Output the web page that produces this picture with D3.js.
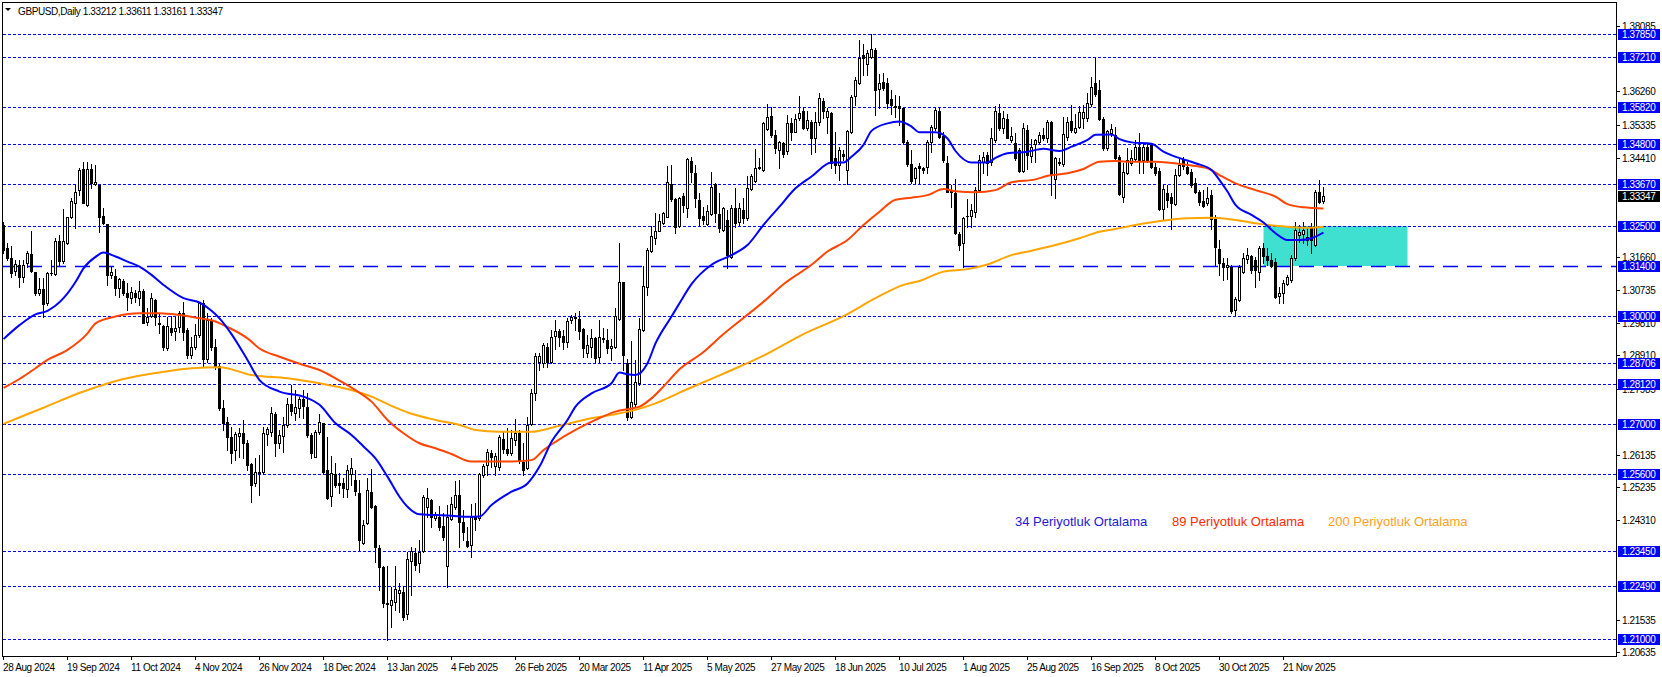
<!DOCTYPE html>
<html>
<head>
<meta charset="utf-8">
<script src="https://cdn.jsdelivr.net/npm/d3@7"></script>
<style>
  body { margin: 0; background: #fff; }
  svg { display: block; font-family: "Liberation Sans", Arial, sans-serif; }
</style>
</head>
<body>
<svg id="chart" width="1662" height="677"></svg>
<script>
// daily candles [open, high, low, close], one row of 16 bars per date label
const ohlc = [
  // 28 Aug 2024
  [1.3254,1.3263,1.3176,1.3184],[1.3189,1.3203,1.3157,1.3161],[1.3161,1.3195,1.3110,1.3121],[1.3127,1.3157,1.3115,1.3145],
  [1.3142,1.3157,1.3082,1.3110],[1.3110,1.3157,1.3096,1.3143],[1.3149,1.3182,1.3138,1.3175],[1.3173,1.3237,1.3124,1.3127],
  [1.3123,1.3123,1.3059,1.3064],[1.3065,1.3105,1.3059,1.3075],[1.3075,1.3105,1.2999,1.3034],[1.3038,1.3124,1.3031,1.3119],
  [1.3119,1.3156,1.3115,1.3121],[1.3118,1.3217,1.3115,1.3210],[1.3210,1.3226,1.3143,1.3155],[1.3155,1.3298,1.3147,1.3210],
  // 19 Sep 2024
  [1.3205,1.3277,1.3201,1.3277],[1.3277,1.3328,1.3272,1.3322],[1.3314,1.3365,1.3245,1.3346],[1.3350,1.3412,1.3338,1.3407],
  [1.3409,1.3428,1.3314,1.3316],[1.3310,1.3430,1.3307,1.3409],[1.3409,1.3425,1.3356,1.3370],[1.3367,1.3421,1.3365,1.3375],
  [1.3365,1.3365,1.3233,1.3277],[1.3279,1.3300,1.3258,1.3260],[1.3258,1.3258,1.3087,1.3115],[1.3114,1.3138,1.3106,1.3124],
  [1.3113,1.3131,1.3059,1.3078],[1.3078,1.3105,1.3054,1.3103],[1.3098,1.3103,1.3059,1.3064],[1.3065,1.3091,1.3017,1.3054],
  // 11 Oct 2024
  [1.3050,1.3082,1.3038,1.3068],[1.3065,1.3073,1.3040,1.3054],[1.3050,1.3098,1.3031,1.3070],[1.3070,1.3075,1.2980,1.2982],
  [1.2983,1.3022,1.2974,1.2999],[1.3001,1.3065,1.2999,1.3050],[1.3045,1.3048,1.2975,1.2999],[1.2982,1.3008,1.2952,1.2978],
  [1.2973,1.2976,1.2906,1.2915],[1.2911,1.2999,1.2906,1.2973],[1.2966,1.3000,1.2948,1.2955],[1.2960,1.2999,1.2934,1.2966],
  [1.2969,1.3013,1.2957,1.3008],[1.3010,1.3040,1.2934,1.2957],[1.2962,1.2966,1.2883,1.2892],[1.2892,1.2943,1.2883,1.2915],
  // 4 Nov 2024
  [1.2915,1.2978,1.2908,1.2948],[1.2948,1.3040,1.2943,1.3038],[1.3036,1.3045,1.2860,1.2880],[1.2880,1.3010,1.2872,1.2990],
  [1.2990,1.2995,1.2905,1.2915],[1.2915,1.2935,1.2852,1.2860],[1.2860,1.2866,1.2740,1.2745],[1.2743,1.2767,1.2683,1.2702],
  [1.2706,1.2720,1.2628,1.2663],[1.2663,1.2692,1.2592,1.2618],[1.2627,1.2678,1.2599,1.2671],[1.2667,1.2688,1.2608,1.2675],
  [1.2674,1.2711,1.2604,1.2648],[1.2648,1.2656,1.2572,1.2586],[1.2587,1.2590,1.2483,1.2530],[1.2535,1.2605,1.2528,1.2565],
  // 26 Nov 2024
  [1.2563,1.2613,1.2502,1.2566],[1.2566,1.2692,1.2560,1.2674],[1.2671,1.2692,1.2641,1.2685],[1.2678,1.2748,1.2665,1.2731],
  [1.2728,1.2734,1.2611,1.2646],[1.2646,1.2683,1.2632,1.2669],[1.2667,1.2720,1.2623,1.2697],[1.2697,1.2771,1.2692,1.2755],
  [1.2755,1.2808,1.2725,1.2737],[1.2731,1.2794,1.2711,1.2746],[1.2743,1.2776,1.2720,1.2768],[1.2768,1.2794,1.2716,1.2750],
  [1.2748,1.2785,1.2664,1.2669],[1.2669,1.2675,1.2604,1.2618],[1.2609,1.2683,1.2607,1.2676],[1.2676,1.2728,1.2671,1.2706],
  // 18 Dec 2024
  [1.2702,1.2703,1.2564,1.2567],[1.2572,1.2664,1.2490,1.2493],[1.2499,1.2611,1.2470,1.2564],[1.2560,1.2590,1.2523,1.2530],
  [1.2536,1.2562,1.2507,1.2529],[1.2536,1.2548,1.2497,1.2520],[1.2518,1.2586,1.2497,1.2572],[1.2560,1.2604,1.2530,1.2576],
  [1.2544,1.2572,1.2502,1.2514],[1.2507,1.2544,1.2349,1.2377],[1.2367,1.2432,1.2365,1.2418],[1.2423,1.2548,1.2421,1.2516],
  [1.2509,1.2573,1.2467,1.2469],[1.2471,1.2474,1.2316,1.2358],[1.2353,1.2363,1.2237,1.2302],[1.2302,1.2304,1.2191,1.2202],
  // 13 Jan 2025
  [1.2198,1.2304,1.2098,1.2202],[1.2196,1.2247,1.2135,1.2210],[1.2205,1.2304,1.2182,1.2239],[1.2228,1.2256,1.2177,1.2236],
  [1.2233,1.2249,1.2154,1.2163],[1.2171,1.2344,1.2156,1.2323],[1.2317,1.2356,1.2223,1.2347],[1.2340,1.2353,1.2293,1.2307],
  [1.2313,1.2377,1.2288,1.2344],[1.2347,1.2502,1.2344,1.2497],[1.2468,1.2521,1.2442,1.2493],[1.2488,1.2492,1.2414,1.2442],
  [1.2437,1.2455,1.2432,1.2448],[1.2442,1.2470,1.2405,1.2412],[1.2416,1.2451,1.2377,1.2386],[1.2304,1.2474,1.2247,1.2442],
  // 4 Feb 2025
  [1.2434,1.2496,1.2432,1.2477],[1.2468,1.2540,1.2462,1.2502],[1.2502,1.2544,1.2358,1.2428],[1.2428,1.2460,1.2377,1.2400],
  [1.2375,1.2414,1.2358,1.2360],[1.2363,1.2478,1.2330,1.2440],[1.2440,1.2479,1.2405,1.2434],[1.2437,1.2563,1.2432,1.2560],
  [1.2558,1.2588,1.2553,1.2583],[1.2585,1.2629,1.2558,1.2623],[1.2618,1.2627,1.2581,1.2607],[1.2583,1.2618,1.2558,1.2611],
  [1.2581,1.2669,1.2571,1.2663],[1.2657,1.2678,1.2618,1.2629],[1.2629,1.2688,1.2613,1.2618],[1.2620,1.2683,1.2613,1.2660],
  // 26 Feb 2025
  [1.2655,1.2713,1.2641,1.2675],[1.2674,1.2683,1.2590,1.2599],[1.2595,1.2646,1.2558,1.2572],[1.2578,1.2720,1.2574,1.2697],
  [1.2700,1.2796,1.2697,1.2787],[1.2785,1.2897,1.2767,1.2889],[1.2873,1.2898,1.2850,1.2889],[1.2869,1.2924,1.2859,1.2920],
  [1.2915,1.2924,1.2859,1.2873],[1.2871,1.2961,1.2869,1.2943],[1.2945,1.2989,1.2908,1.2959],[1.2959,1.2963,1.2917,1.2943],
  [1.2946,1.2961,1.2908,1.2929],[1.2927,1.2994,1.2915,1.2987],[1.2989,1.3003,1.2980,1.2999],[1.2994,1.3010,1.2962,1.2999],
  // 20 Mar 2025
  [1.2992,1.3013,1.2936,1.2960],[1.2963,1.2966,1.2887,1.2910],[1.2896,1.2947,1.2887,1.2920],[1.2915,1.2963,1.2887,1.2938],
  [1.2938,1.2943,1.2869,1.2883],[1.2885,1.2989,1.2873,1.2943],[1.2939,1.2966,1.2929,1.2935],[1.2934,1.2963,1.2897,1.2910],
  [1.2910,1.2935,1.2878,1.2918],[1.2915,1.3022,1.2910,1.3001],[1.2991,1.3203,1.2989,1.3094],[1.3094,1.3096,1.2850,1.2892],
  [1.2870,1.2880,1.2711,1.2720],[1.2720,1.2932,1.2716,1.2762],[1.2755,1.2878,1.2750,1.2818],[1.2815,1.2994,1.2808,1.2963],
  // 11 Apr 2025
  [1.2961,1.3140,1.2960,1.3084],[1.3080,1.3189,1.3059,1.3184],[1.3182,1.3251,1.3180,1.3223],[1.3217,1.3288,1.3201,1.3237],
  [1.3238,1.3284,1.3238,1.3266],[1.3260,1.3291,1.3257,1.3286],[1.3275,1.3418,1.3275,1.3373],[1.3367,1.3421,1.3322,1.3326],
  [1.3326,1.3330,1.3231,1.3249],[1.3252,1.3333,1.3247,1.3328],[1.3336,1.3342,1.3291,1.3310],[1.3302,1.3440,1.3277,1.3438],
  [1.3432,1.3442,1.3375,1.3401],[1.3398,1.3421,1.3305,1.3328],[1.3324,1.3342,1.3254,1.3274],[1.3280,1.3305,1.3256,1.3268],
  // 5 May 2025
  [1.3256,1.3310,1.3254,1.3293],[1.3284,1.3402,1.3282,1.3361],[1.3367,1.3370,1.3261,1.3286],[1.3284,1.3342,1.3235,1.3246],
  [1.3240,1.3305,1.3237,1.3302],[1.3268,1.3296,1.3135,1.3170],[1.3166,1.3310,1.3161,1.3300],[1.3302,1.3356,1.3247,1.3259],
  [1.3263,1.3314,1.3254,1.3300],[1.3296,1.3328,1.3259,1.3272],[1.3272,1.3389,1.3268,1.3356],[1.3354,1.3395,1.3351,1.3389],
  [1.3376,1.3466,1.3375,1.3413],[1.3412,1.3440,1.3409,1.3416],[1.3407,1.3542,1.3405,1.3537],[1.3521,1.3590,1.3518,1.3556],
  // 27 May 2025
  [1.3558,1.3583,1.3500,1.3505],[1.3505,1.3519,1.3454,1.3467],[1.3463,1.3488,1.3412,1.3484],[1.3481,1.3486,1.3444,1.3451],
  [1.3460,1.3560,1.3453,1.3537],[1.3537,1.3553,1.3491,1.3512],[1.3514,1.3562,1.3512,1.3549],[1.3551,1.3614,1.3546,1.3565],
  [1.3571,1.3583,1.3521,1.3523],[1.3523,1.3570,1.3518,1.3546],[1.3542,1.3546,1.3453,1.3495],[1.3495,1.3568,1.3458,1.3542],
  [1.3540,1.3621,1.3532,1.3607],[1.3599,1.3607,1.3551,1.3571],[1.3556,1.3581,1.3509,1.3571],[1.3565,1.3568,1.3412,1.3426],
  // 18 Jun 2025
  [1.3440,1.3514,1.3398,1.3421],[1.3421,1.3472,1.3379,1.3463],[1.3453,1.3463,1.3435,1.3447],[1.3407,1.3518,1.3367,1.3516],
  [1.3512,1.3616,1.3509,1.3611],[1.3614,1.3667,1.3588,1.3658],[1.3648,1.3769,1.3646,1.3720],[1.3727,1.3757,1.3672,1.3718],
  [1.3701,1.3741,1.3672,1.3732],[1.3723,1.3785,1.3718,1.3744],[1.3741,1.3746,1.3560,1.3630],[1.3633,1.3674,1.3579,1.3648],
  [1.3651,1.3676,1.3630,1.3636],[1.3648,1.3664,1.3579,1.3593],[1.3605,1.3630,1.3562,1.3588],[1.3586,1.3616,1.3556,1.3582],
  // 10 Jul 2025
  [1.3584,1.3614,1.3532,1.3579],[1.3579,1.3581,1.3481,1.3486],[1.3486,1.3490,1.3419,1.3423],[1.3423,1.3463,1.3372,1.3376],
  [1.3386,1.3416,1.3370,1.3414],[1.3419,1.3426,1.3370,1.3412],[1.3412,1.3416,1.3398,1.3407],[1.3416,1.3491,1.3398,1.3486],
  [1.3484,1.3533,1.3458,1.3528],[1.3523,1.3583,1.3518,1.3573],[1.3571,1.3583,1.3495,1.3500],[1.3503,1.3512,1.3430,1.3435],
  [1.3426,1.3447,1.3345,1.3347],[1.3349,1.3365,1.3305,1.3347],[1.3344,1.3382,1.3228,1.3231],[1.3228,1.3235,1.3184,1.3198],
  // 1 Aug 2025
  [1.3203,1.3277,1.3138,1.3274],[1.3278,1.3325,1.3249,1.3280],[1.3280,1.3312,1.3249,1.3296],[1.3289,1.3361,1.3277,1.3351],
  [1.3351,1.3449,1.3349,1.3435],[1.3428,1.3456,1.3398,1.3444],[1.3449,1.3458,1.3393,1.3426],[1.3428,1.3523,1.3421,1.3495],
  [1.3491,1.3584,1.3486,1.3570],[1.3565,1.3590,1.3518,1.3523],[1.3525,1.3570,1.3509,1.3553],[1.3549,1.3562,1.3495,1.3497],
  [1.3491,1.3528,1.3484,1.3503],[1.3481,1.3509,1.3435,1.3440],[1.3463,1.3468,1.3402,1.3404],[1.3404,1.3537,1.3401,1.3525],
  // 25 Aug 2025
  [1.3518,1.3533,1.3410,1.3449],[1.3447,1.3493,1.3428,1.3472],[1.3479,1.3493,1.3430,1.3491],[1.3486,1.3512,1.3482,1.3505],
  [1.3505,1.3523,1.3491,1.3497],[1.3495,1.3547,1.3486,1.3540],[1.3540,1.3544,1.3337,1.3395],[1.3382,1.3444,1.3330,1.3440],
  [1.3426,1.3440,1.3421,1.3430],[1.3423,1.3556,1.3419,1.3506],[1.3500,1.3556,1.3491,1.3540],[1.3543,1.3588,1.3512,1.3518],
  [1.3514,1.3562,1.3509,1.3525],[1.3528,1.3584,1.3523,1.3568],[1.3553,1.3588,1.3523,1.3568],[1.3551,1.3621,1.3544,1.3593],
  // 16 Sep 2025
  [1.3590,1.3667,1.3586,1.3639],[1.3648,1.3723,1.3614,1.3618],[1.3630,1.3658,1.3546,1.3549],[1.3549,1.3556,1.3463,1.3467],
  [1.3467,1.3518,1.3463,1.3516],[1.3510,1.3534,1.3503,1.3521],[1.3504,1.3528,1.3435,1.3441],[1.3444,1.3449,1.3337,1.3339],
  [1.3333,1.3426,1.3318,1.3402],[1.3400,1.3467,1.3396,1.3435],[1.3426,1.3463,1.3421,1.3440],[1.3437,1.3491,1.3433,1.3472],
  [1.3472,1.3509,1.3398,1.3435],[1.3435,1.3481,1.3398,1.3472],[1.3472,1.3479,1.3430,1.3435],[1.3477,1.3479,1.3414,1.3416],
  // 8 Oct 2025
  [1.3416,1.3426,1.3393,1.3398],[1.3403,1.3412,1.3296,1.3298],[1.3298,1.3365,1.3270,1.3353],[1.3342,1.3365,1.3305,1.3324],
  [1.3333,1.3342,1.3244,1.3314],[1.3312,1.3409,1.3310,1.3393],[1.3393,1.3440,1.3389,1.3421],[1.3437,1.3442,1.3409,1.3418],
  [1.3415,1.3430,1.3396,1.3398],[1.3402,1.3409,1.3361,1.3365],[1.3372,1.3384,1.3342,1.3347],[1.3347,1.3351,1.3310,1.3319],
  [1.3322,1.3351,1.3305,1.3307],[1.3316,1.3361,1.3310,1.3328],[1.3337,1.3351,1.3244,1.3270],[1.3275,1.3282,1.3140,1.3192],
  // 30 Oct 2025
  [1.3186,1.3212,1.3115,1.3147],[1.3147,1.3161,1.3100,1.3136],[1.3138,1.3161,1.3103,1.3143],[1.3138,1.3142,1.3010,1.3013],
  [1.3017,1.3054,1.3003,1.3047],[1.3045,1.3142,1.3043,1.3136],[1.3124,1.3177,1.3119,1.3161],[1.3158,1.3191,1.3147,1.3170],
  [1.3168,1.3170,1.3119,1.3129],[1.3157,1.3166,1.3082,1.3129],[1.3124,1.3194,1.3101,1.3189],[1.3189,1.3203,1.3147,1.3168],
  [1.3168,1.3189,1.3143,1.3157],[1.3157,1.3175,1.3136,1.3140],[1.3152,1.3161,1.3050,1.3054],[1.3056,1.3082,1.3036,1.3065],
  // 21 Nov 2025
  [1.3065,1.3101,1.3036,1.3091],[1.3089,1.3115,1.3087,1.3110],[1.3102,1.3170,1.3096,1.3161],[1.3161,1.3261,1.3156,1.3240],
  [1.3226,1.3254,1.3207,1.3235],[1.3229,1.3263,1.3203,1.3240],[1.3212,1.3245,1.3198,1.3221],[1.3245,1.3259,1.3175,1.3212],
  [1.3198,1.3351,1.3194,1.3347],[1.3347,1.3379,1.3316,1.3319],[1.33212,1.33611,1.33161,1.33347]
];

const dateLabels = ["28 Aug 2024", "19 Sep 2024", "11 Oct 2024", "4 Nov 2024", "26 Nov 2024", "18 Dec 2024",
  "13 Jan 2025", "4 Feb 2025", "26 Feb 2025", "20 Mar 2025", "11 Apr 2025", "5 May 2025", "27 May 2025",
  "18 Jun 2025", "10 Jul 2025", "1 Aug 2025", "25 Aug 2025", "16 Sep 2025", "8 Oct 2025", "30 Oct 2025", "21 Nov 2025"];
const barsPerLabel = 16;

// moving averages: [bar, value]
const ma34 = [[0,1.2936],[4,1.2975],[8,1.3005],[11,1.3015],[15,1.3050],[18,1.3095],[20,1.3133],[23,1.3165],[25,1.3177],
  [28,1.3166],[31,1.3152],[34,1.3138],[37,1.3115],[40,1.3087],[45,1.3050],[49,1.3038],[52,1.3015],[54,1.2994],[57,1.2950],
  [61,1.2878],[64,1.2822],[69,1.2790],[75,1.2776],[79,1.2753],[83,1.2702],[87,1.2669],[90,1.2637],[93,1.2604],[96,1.2553],
  [99,1.2497],[101,1.2469],[104,1.2448],[108,1.2446],[112,1.2444],[116,1.2441],[119,1.2442],[122,1.2474],[127,1.2511],
  [131,1.2534],[134,1.2581],[137,1.2650],[141,1.2711],[143,1.2748],[147,1.2785],[152,1.2813],[154,1.2843],[156,1.2838],
  [158,1.2836],[161,1.2869],[163,1.2924],[167,1.2999],[169,1.3036],[172,1.3089],[177,1.3143],[182,1.3170],[186,1.3198],
  [190,1.3254],[194,1.3305],[198,1.3356],[202,1.3389],[207,1.3428],[210,1.3428],[212,1.3444],[215,1.3477],[217,1.3516],
  [221,1.3537],[224,1.3542],[227,1.3528],[229,1.3512],[233,1.3512],[236,1.3495],[238,1.3460],[242,1.3428],[246,1.3428],
  [248,1.3441],[251,1.3454],[256,1.3458],[260,1.3466],[264,1.3460],[267,1.3472],[271,1.3491],[273,1.3505],[277,1.3506],
  [279,1.3493],[282,1.3484],[287,1.3480],[290,1.3458],[294,1.3440],[298,1.3426],[302,1.3407],[304,1.3379],[306,1.3347],
  [308,1.3310],[312,1.3282],[315,1.3261],[318,1.3231],[321,1.3212],[324,1.3212],[327,1.3217],[330,1.3233]];
const ma89 = [[0,1.2800],[4,1.2825],[8,1.2855],[11,1.2878],[16,1.2906],[21,1.2952],[23,1.2980],[28,1.2999],[34,1.3008],
  [39,1.3008],[44,1.3003],[49,1.2994],[53,1.2985],[55,1.2975],[61,1.2938],[64,1.2910],[69,1.2887],[75,1.2864],[79,1.2850],
  [83,1.2827],[88,1.2794],[92,1.2762],[96,1.2711],[100,1.2674],[104,1.2646],[108,1.2632],[112,1.2616],[117,1.2595],
  [122,1.2595],[127,1.2595],[132,1.2599],[135,1.2627],[138,1.2650],[143,1.2683],[148,1.2711],[153,1.2734],[157,1.2743],
  [159,1.2748],[162,1.2771],[165,1.2804],[169,1.2852],[175,1.2900],[180,1.2950],[185,1.2995],[190,1.3040],[195,1.3089],
  [202,1.3143],[206,1.3180],[211,1.3212],[215,1.3254],[219,1.3291],[223,1.3324],[227,1.3330],[231,1.3337],[235,1.3354],
  [238,1.3348],[243,1.3345],[248,1.3351],[252,1.3373],[258,1.3381],[261,1.3391],[266,1.3398],[270,1.3410],[274,1.3430],
  [278,1.3432],[282,1.3430],[288,1.3430],[296,1.3421],[301,1.3412],[304,1.3393],[308,1.3370],[313,1.3351],[318,1.3333],
  [321,1.3312],[325,1.3303],[330,1.3300]];
const ma200 = [[0,1.2700],[10,1.2745],[20,1.2790],[30,1.2825],[40,1.2845],[47,1.2855],[54,1.2858],[62,1.2836],[71,1.2827],
  [79,1.2813],[86,1.2797],[92,1.2776],[97,1.2750],[102,1.2728],[108,1.2711],[114,1.2697],[118,1.2683],[124,1.2678],
  [132,1.2678],[138,1.2692],[145,1.2711],[152,1.2725],[158,1.2739],[163,1.2757],[169,1.2787],[180,1.2840],[190,1.2890],
  [200,1.2950],[210,1.3000],[218,1.3050],[225,1.3087],[229,1.3098],[235,1.3124],[241,1.3131],[246,1.3144],[252,1.3170],
  [257,1.3182],[263,1.3198],[269,1.3217],[274,1.3235],[278,1.3243],[282,1.3252],[288,1.3263],[296,1.3273],[302,1.3274],
  [308,1.3268],[314,1.3257],[321,1.3249],[326,1.3246],[330,1.3249]];

const levels = [1.37850, 1.37210, 1.35820, 1.34800, 1.33670, 1.32500, 1.30000, 1.28706, 1.28120, 1.27000, 1.25600, 1.23450, 1.22490, 1.21000];
const dashedLevel = 1.31400;
// scale ticks that are not covered by a level tag
const priceTicks = [1.38085, 1.36260, 1.35335, 1.34410, 1.31660, 1.30735, 1.29810, 1.28910,
  1.27985, 1.26135, 1.25235, 1.24310, 1.21535, 1.20635];
const zoneBars = [315, 351];
const zonePrices = [1.31400, 1.32500];
const maLegend = ["34 Periyotluk Ortalama", "89 Periyotluk Ortalama", "200 Periyotluk Ortalama"];
const title = "GBPUSD,Daily  1.33212 1.33611 1.33161 1.33347";

const width = 1662, height = 677;
const plotRight = 1616, plotBottom = 656;
const svg = d3.select("#chart");

const x = d3.scaleLinear().domain([0, 330]).range([3.5, 1323.5]);
const y = d3.scaleLinear().domain([1.21, 1.3785]).range([639.3, 34.3]);
const py = (v) => Math.round(y(v));

svg.append("rect").attr("width", width).attr("height", height).attr("fill", "#fff");

svg.append("clipPath").attr("id", "plot")
  .append("rect").attr("x", 3).attr("y", 3).attr("width", plotRight - 3).attr("height", plotBottom - 3);
const plot = svg.append("g").attr("clip-path", "url(#plot)");

// support zone
plot.append("rect")
  .attr("x", x(zoneBars[0])).attr("width", x(zoneBars[1]) - x(zoneBars[0]))
  .attr("y", py(zonePrices[1])).attr("height", py(zonePrices[0]) - py(zonePrices[1]))
  .attr("fill", "#40e0d0");

// horizontal levels
plot.selectAll("line.level").data(levels).join("line")
  .attr("class", "level")
  .attr("x1", 3).attr("x2", plotRight)
  .attr("y1", (d) => py(d) + 0.5).attr("y2", (d) => py(d) + 0.5)
  .attr("stroke", "#0000ff").attr("stroke-dasharray", "3,2");
plot.append("line")
  .attr("x1", 3).attr("x2", plotRight)
  .attr("y1", py(dashedLevel) + 0.5).attr("y2", py(dashedLevel) + 0.5)
  .attr("stroke", "#0000ff").attr("stroke-width", 1.5).attr("stroke-dasharray", "15,9");

// candles
const candle = plot.append("g").selectAll("g").data(ohlc).join("g");
candle.append("line")
  .attr("x1", (d, i) => x(i)).attr("x2", (d, i) => x(i))
  .attr("y1", (d) => py(d[1])).attr("y2", (d) => py(d[2]) + 1)
  .attr("stroke", "#000");
candle.each(function (d, i) {
  const g = d3.select(this);
  const up = d[3] >= d[0];
  const t = py(Math.max(d[0], d[3]));
  const b = py(Math.min(d[0], d[3]));
  if (up) {
    g.append("rect")
      .attr("x", x(i) - 1).attr("y", t + 0.5)
      .attr("width", 2).attr("height", Math.max(b - t, 0.01))
      .attr("fill", "#fff").attr("stroke", "#000");
  } else {
    g.append("rect")
      .attr("x", x(i) - 1.5).attr("y", t)
      .attr("width", 3).attr("height", b - t + 1)
      .attr("fill", "#000");
  }
});

// moving averages
const maLine = d3.line()
  .x((d) => x(d[0]))
  .y((d) => y(d[1]))
  .curve(d3.curveMonotoneX);
[[ma200, "#ffa500"], [ma89, "#ff4500"], [ma34, "#0000ff"]].forEach(([data, color]) => {
  plot.append("path").datum(data)
    .attr("d", maLine)
    .attr("fill", "none").attr("stroke", color).attr("stroke-width", 2);
});

svg.selectAll("text.legend").data(maLegend).join("text")
  .attr("class", "legend")
  .attr("x", (d, i) => [1015, 1172, 1328][i]).attr("y", 526)
  .attr("font-size", 13)
  .attr("fill", (d, i) => ["#1a1ad6", "#ff2a00", "#ffa024"][i])
  .text((d) => d);

// frame
svg.append("rect")
  .attr("x", 2.5).attr("y", 2.5).attr("width", plotRight - 2).attr("height", plotBottom - 2)
  .attr("fill", "none").attr("stroke", "#000");

// right price scale
const axisText = { "font-size": 10, "letter-spacing": -0.4 };
const scale = svg.append("g");
scale.selectAll("line").data(priceTicks).join("line")
  .attr("x1", plotRight).attr("x2", plotRight + 4)
  .attr("y1", (d) => py(d) + 0.5).attr("y2", (d) => py(d) + 0.5)
  .attr("stroke", "#000");
scale.selectAll("text").data(priceTicks).join("text")
  .attr("x", plotRight + 6).attr("y", (d) => py(d) + 4)
  .attr("font-size", axisText["font-size"]).attr("letter-spacing", axisText["letter-spacing"])
  .text((d) => d.toFixed(5));

const tags = svg.append("g");
function priceTag(v, bg) {
  const yy = py(v);
  tags.append("rect")
    .attr("x", plotRight + 2).attr("y", yy - 5).attr("width", 42).attr("height", 11)
    .attr("fill", bg);
  tags.append("text")
    .attr("x", plotRight + 6).attr("y", yy + 4)
    .attr("font-size", axisText["font-size"]).attr("letter-spacing", axisText["letter-spacing"])
    .attr("fill", "#fff")
    .text(v.toFixed(5));
}
levels.concat([dashedLevel]).forEach((v) => priceTag(v, "#0000ff"));
priceTag(ohlc[ohlc.length - 1][3], "#000");

// date scale
const dates = svg.append("g");
dates.selectAll("line").data(dateLabels).join("line")
  .attr("x1", (d, i) => x(i * barsPerLabel)).attr("x2", (d, i) => x(i * barsPerLabel))
  .attr("y1", plotBottom).attr("y2", plotBottom + 4)
  .attr("stroke", "#000");
dates.selectAll("text").data(dateLabels).join("text")
  .attr("x", (d, i) => x(i * barsPerLabel) - 0.5).attr("y", plotBottom + 15)
  .attr("font-size", axisText["font-size"]).attr("letter-spacing", axisText["letter-spacing"])
  .text((d) => d);

// title
svg.append("path").attr("d", "M5,8 L11,8 L8,11 Z").attr("fill", "#000");
svg.append("text")
  .attr("x", 18).attr("y", 14.5)
  .attr("font-size", axisText["font-size"]).attr("letter-spacing", axisText["letter-spacing"])
  .text(title);
</script>
</body>
</html>
